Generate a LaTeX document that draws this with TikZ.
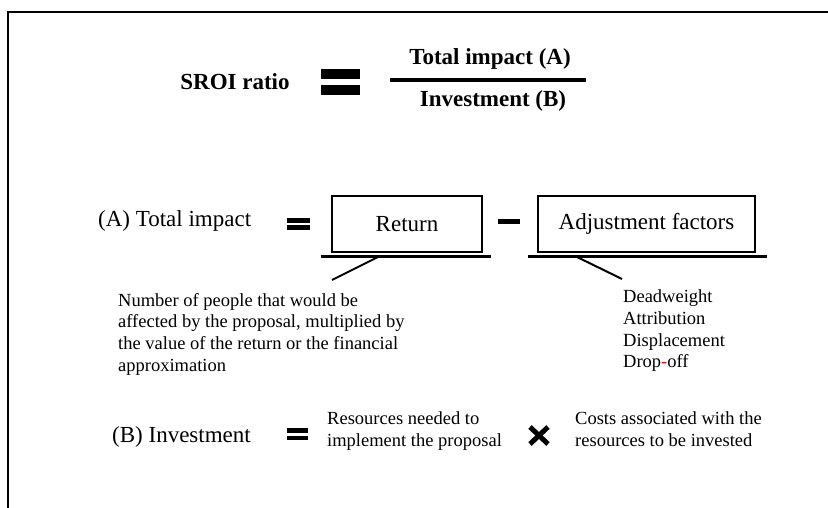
\documentclass[tikz,border=0pt]{standalone}
\usepackage{fontspec}
\setmainfont{Liberation Serif}
\begin{document}
\begin{tikzpicture}[x=1pt,y=-1pt,
  big/.style={font=\fontsize{23}{27}\selectfont, inner sep=0pt},
  bigb/.style={font=\fontsize{23}{27}\selectfont\bfseries, inner sep=0pt},
  small/.style={font=\fontsize{18.5}{21.7}\selectfont, inner sep=0pt, anchor=base west},
  termbox/.style={draw, line width=2pt, inner sep=0pt, minimum height=56pt, font=\fontsize{23}{27}\selectfont},
  rule/.style={line width=3pt},
  conn/.style={line width=2pt},
  bar/.style={fill=black, draw=none}]
\useasboundingbox (0,0) rectangle (828,508);
% frame
\draw[line width=2pt] (828,12) -- (8,12) -- (8,508);

% SROI ratio row
\node[bigb, anchor=base] (sroi) at (235,90) {SROI ratio};
\fill[bar] (321,69) rectangle (360,79);
\fill[bar] (321,85) rectangle (360,95);
\node[bigb, anchor=base] (num) at (490,65) {Total impact (A)};
\node[bigb, anchor=base] (den) at (493,107) {Investment (B)};
\draw[line width=4pt] (390,80) -- (586,80);

% (A) row
\node[big, anchor=base west] (ta) at (98,226) {(A) Total impact};
\fill[bar] (287,218.5) rectangle (310,223);
\fill[bar] (287,225) rectangle (310,229.5);
\node[termbox, minimum width=150pt] (ret) at (407,224) {Return};
\fill[bar] (498,219) rectangle (520,224);
\node[termbox, minimum width=217pt] (adj) at (646.5,224) {Adjustment factors};
\draw[rule] (321,256) -- (491,256);
\draw[rule] (528,256) -- (767,256);
\coordinate (r1) at (380,256);
\coordinate (r2) at (332,280);
\coordinate (a1) at (575,256);
\coordinate (a2) at (622,279);
\draw[conn] (r1) -- (r2);
\draw[conn] (a1) -- (a2);

% return description
\node[small] (n1) at (118,306) {Number of people that would be};
\node[small] (n2) at (118,327.7) {affected by the proposal, multiplied by};
\node[small] (n3) at (118,349.4) {the value of the return or the financial};
\node[small] (n4) at (118,371) {approximation};

% adjustment factors list
\node[small] (d1) at (623,302) {Deadweight};
\node[small] (d2) at (623,324) {Attribution};
\node[small] (d3) at (623,346) {Displacement};
\node[small] (d4) at (623,367.5) {Drop\textcolor{red}{-}off};

% (B) row
\node[big, anchor=base west] (tb) at (112,442) {(B) Investment};
\fill[bar] (287,428) rectangle (308,432.5);
\fill[bar] (287,435.5) rectangle (308,440);
\node[small] (res1) at (327,424) {Resources needed to};
\node[small] (res2) at (327,446) {implement the proposal};
\draw[line width=5pt] (530,427) -- (548,444);
\draw[line width=5pt] (530,444) -- (548,427);
\node[small] (c1) at (575,424) {Costs associated with the};
\node[small] (c2) at (575,446) {resources to be invested};
\end{tikzpicture}
\end{document}
